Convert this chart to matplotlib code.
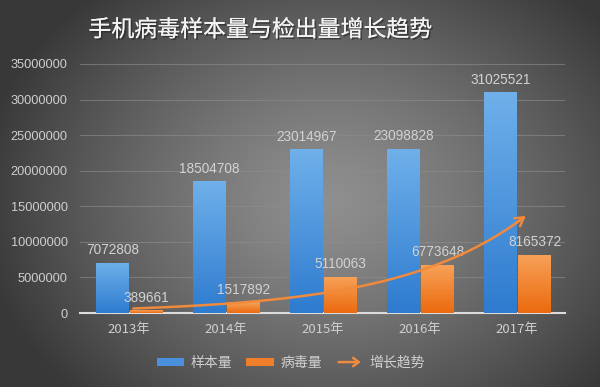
import numpy as np
import matplotlib
matplotlib.use("Agg")
import matplotlib.pyplot as plt
from matplotlib.colors import LinearSegmentedColormap
from matplotlib.patches import Patch, FancyArrowPatch
from matplotlib.legend_handler import HandlerBase
import matplotlib.patheffects as pe

plt.rcParams['font.family'] = ['Noto Sans CJK SC', 'DejaVu Sans']

categories = ["2013年", "2014年", "2015年", "2016年", "2017年"]
samples = [7072808, 18504708, 23014967, 23098828, 31025521]
viruses = [389661, 1517892, 5110063, 6773648, 8165372]
yticks = [0, 5000000, 10000000, 15000000, 20000000, 25000000, 30000000, 35000000]
title = "手机病毒样本量与检出量增长趋势"
legend_labels = ["样本量", "病毒量", "增长趋势"]

W, H = 600, 387
fig = plt.figure(figsize=(W / 100, H / 100), dpi=100)

# radial gradient background
bg = fig.add_axes([0, 0, 1, 1], zorder=-10)
yy, xx = np.mgrid[0:H, 0:W]
cx, cy = 330, 200
r = np.sqrt(((xx - cx) / 330.0) ** 2 + ((yy - cy) / 260.0) ** 2)
val = np.clip(0.56 - 0.31 * r ** 1.3, 0.22, 0.6)
bg.imshow(np.dstack([val, val, val]), extent=[0, W, H, 0], aspect='auto')
bg.set_xlim(0, W)
bg.set_ylim(H, 0)
bg.axis('off')

ax = fig.add_axes([80 / W, (H - 313) / H, (565 - 80) / W, (313 - 64) / H])
ax.patch.set_alpha(0)

x = np.arange(len(categories))
bw = 0.33
blue_cmap = LinearSegmentedColormap.from_list("b", ["#2e7bcf", "#6fb0ea"])
orange_cmap = LinearSegmentedColormap.from_list("o", ["#ec6a0f", "#f7a258"])
grad = np.linspace(0, 1, 100).reshape(-1, 1)

b1 = ax.bar(x - bw / 2, samples, bw, color="#4a90dc", zorder=2)
b2 = ax.bar(x + bw / 2 + 0.02, viruses, bw, color="#f07f2a", zorder=2)
for bars, cmap in ((b1, blue_cmap), (b2, orange_cmap)):
    for rect in bars:
        x0, w, h = rect.get_x(), rect.get_width(), rect.get_height()
        im = ax.imshow(grad, cmap=cmap, origin='lower', aspect='auto',
                       extent=[x0, x0 + w, 0, h], zorder=3)
        im.set_clip_path(rect)

ax.set_xlim(-0.5, 4.5)
ax.set_ylim(0, 35000000)

num_font = ['Liberation Sans', 'DejaVu Sans']
lab_col = "#d2d2d2"
for xi, v in zip(x, samples):
    ax.text(xi - bw / 2, v + 800000, f"{v}", ha='center', va='bottom',
            color=lab_col, fontsize=9.8, family=num_font, zorder=5)
for xi, v in zip(x, viruses):
    ax.text(xi + bw / 2 + 0.02, v + 800000, f"{v}", ha='center', va='bottom',
            color=lab_col, fontsize=9.8, family=num_font, zorder=5)

# trend arrow: exponential fit of virus counts
coef = np.polyfit(x, np.log(viruses), 1)
tx = np.linspace(0.05, 4.12, 200)
ty = np.exp(np.polyval(coef, tx))
ax.plot(tx[:-3], ty[:-3], color="#f08a3c", lw=1.8, zorder=6, solid_capstyle='round')
ax.annotate("", xy=(tx[-1], ty[-1]), xytext=(tx[-8], ty[-8]),
            arrowprops=dict(arrowstyle="->,head_length=0.6,head_width=0.35",
                            color="#f08a3c", lw=1.8), zorder=6)

ax.set_yticks(yticks)
ax.set_yticklabels([str(t) for t in yticks], family=num_font)
ax.set_xticks(x)
ax.set_xticklabels(categories)
ax.tick_params(axis='y', length=0, pad=9, labelsize=9.2, labelcolor="#cfcfcf")
ax.tick_params(axis='x', length=0, pad=7, labelsize=9.5, labelcolor="#cfcfcf")
ax.grid(axis='y', color="#8e8e8e", lw=0.8, alpha=0.6, zorder=0)
for s in ("top", "right", "left"):
    ax.spines[s].set_visible(False)
ax.spines['bottom'].set_color("#dcdcdc")
ax.spines['bottom'].set_linewidth(1.5)

fig.text(260 / W, 1 - 30 / H, title, ha='center', va='center', fontsize=16.5,
         color="#f4f4f4",
         path_effects=[pe.withSimplePatchShadow(offset=(1.2, -1.2), shadow_rgbFace='#222222', alpha=0.6),
                       pe.Normal()])


class ArrowHandler(HandlerBase):
    def create_artists(self, legend, orig_handle, xdescent, ydescent, width, height, fontsize, trans):
        a = FancyArrowPatch((-xdescent, height / 2 - ydescent), (width - xdescent, height / 2 - ydescent),
                            arrowstyle="->,head_length=4,head_width=3", color="#f08a3c", lw=1.8,
                            mutation_scale=1, transform=trans)
        return [a]


arrow_handle = FancyArrowPatch((0, 0), (1, 1))
handles = [Patch(facecolor="#4a90dc"), Patch(facecolor="#f07f2a"), arrow_handle]
leg = fig.legend(handles, legend_labels, loc='center', bbox_to_anchor=(291 / W, 1 - 363 / H),
                 ncol=3, frameon=False, fontsize=10, labelcolor="#cfcfcf",
                 handlelength=2.0, handleheight=0.5, columnspacing=1.0, handletextpad=0.45,
                 handler_map={FancyArrowPatch: ArrowHandler()})

fig.savefig("out.png", dpi=100)
